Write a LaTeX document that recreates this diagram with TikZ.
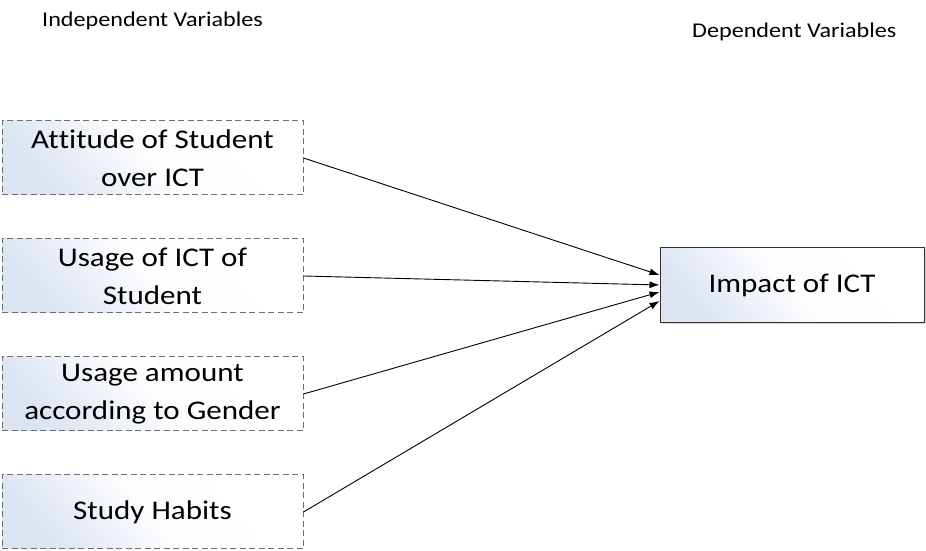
\documentclass[tikz,border=0pt]{standalone}
\usepackage{fontspec}
\setmainfont{Carlito}[FakeStretch=1.15,Ligatures={NoCommon,NoContextual}]
\usetikzlibrary{arrows.meta,shadows}
\definecolor{boxtint}{RGB}{220,228,242}
\definecolor{dashgray}{RGB}{110,110,110}
\tikzset{
  tintfill/.style={shade, shading=axis, top color=boxtint, bottom color=white, middle color=white!95!boxtint, shading angle=130},
  varbox/.style={draw=dashgray, dash pattern=on 6pt off 3.5pt, line width=1pt, tintfill,
    minimum width=301pt, minimum height=74pt, inner sep=0pt, align=center,
    font=\fontsize{27}{38}\selectfont},
  depbox/.style={draw=black!80, line width=1pt, tintfill,
    drop shadow={shadow xshift=1.5pt, shadow yshift=-1.5pt, opacity=0.35},
    minimum width=264pt, minimum height=75pt, inner sep=0pt, align=center,
    font=\fontsize{27}{38}\selectfont},
  header/.style={inner sep=0pt, font=\fontsize{21}{25}\selectfont},
  conn/.style={line width=0.9pt, -{Latex[length=10pt,width=7pt]}}
}
\begin{document}
\begin{tikzpicture}[x=1pt,y=1pt]
\useasboundingbox (0,0) rectangle (926,551);
\node[header, anchor=west] (hind) at (42,530) {Independent Variables};
\node[header, anchor=west] (hdep) at (692,519) {Dependent Variables};
\node[varbox] (b1) at (152.5,393) {At\kern0pt t\kern0pt itude of Student\\over ICT};
\node[varbox] (b2) at (152.5,275) {Usage of ICT of\\Student};
\node[varbox] (b3) at (152.5,157) {Usage amount\\according to Gender};
\node[varbox] (b4) at (152.5,39) {\raisebox{-2pt}{Study Habits}};
\node[depbox] (imp) at (792,265.5) {\raisebox{-2.5pt}{Impact of ICT}};
\draw[conn] (b1.east) -- ([yshift=10.5pt]imp.west);
\draw[conn] (b2.east) -- ([yshift=0.5pt]imp.west);
\draw[conn] (b3.east) -- ([yshift=-6.5pt]imp.west);
\draw[conn] (b4.east) -- ([yshift=-15.5pt]imp.west);
\end{tikzpicture}
\end{document}
